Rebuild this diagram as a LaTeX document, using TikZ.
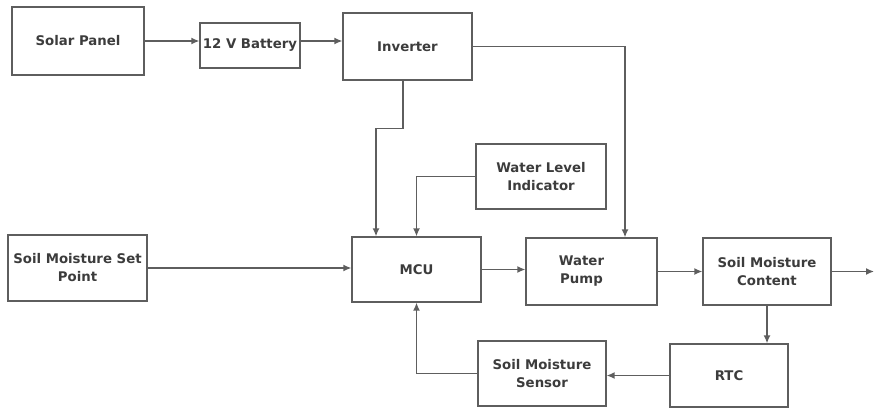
\documentclass[tikz,border=0pt]{standalone}
\usepackage{fontspec}
\setmainfont{DejaVu Sans}
\usetikzlibrary{arrows.meta}
\definecolor{txt}{HTML}{3C3C3C}
\definecolor{ln}{HTML}{5E5E5E}
\tikzset{
  blk/.style={draw=ln, line width=1.3pt, fill=white, align=center, text=txt,
    font=\fontsize{13.3}{18}\selectfont\bfseries, inner sep=0pt},
  arr/.style={draw=ln, line width=1.4pt, -{Latex[length=8pt,width=7pt]}},
}
\begin{document}
\begin{tikzpicture}[x=1pt,y=-1pt]
\useasboundingbox (0,0) rectangle (874,409);
\node[blk, minimum width=132, minimum height=68] (solar) at (78,41) {Solar Panel};
\node[blk, minimum width=100, minimum height=45] (batt) at (250,45.5) {12 V Battery};
\node[blk, minimum width=129, minimum height=67] (inv) at (407.5,46.5) {Inverter};
\node[blk, minimum width=130, minimum height=65] (wli) at (541,176.5) {Water Level\\Indicator};
\node[blk, minimum width=139, minimum height=66] (setp) at (77.5,268) {Soil Moisture Set\\Point};
\node[blk, minimum width=129, minimum height=65] (mcu) at (416.5,269.5) {MCU};
\node[blk, minimum width=131, minimum height=67] (pump) at (591.5,271.5) {\hspace*{-20pt}Water\\\hspace*{-20pt}Pump};
\node[blk, minimum width=128, minimum height=67] (smc) at (767,271.5) {Soil Moisture\\Content};
\node[blk, minimum width=118, minimum height=63] (rtc) at (729,375.5) {RTC};
\node[blk, minimum width=128, minimum height=65] (sens) at (542,373.5) {Soil Moisture\\Sensor};
\coordinate (out) at (874,271.5);

\draw[arr] (solar.east) -- (solar.east -| batt.west);
\draw[arr] (batt.east |- solar.east) -- (solar.east -| inv.west);
\draw[arr] ([xshift=-4.5pt]inv.south) -- ++(0,48) -| ([xshift=-40.5pt]mcu.north);
\draw[arr] (inv.east) -| ([xshift=33.5pt]pump.north);
\draw[arr] (wli.west) -| (mcu.north);
\draw[arr] (setp.east) -- (setp.east -| mcu.west);
\draw[arr] (mcu.east) -- (mcu.east -| pump.west);
\draw[arr] (pump.east) -- (smc.west);
\draw[arr] (smc.east) -- (out);
\draw[arr] (smc.south) -- (smc.south |- rtc.north);
\draw[arr] (rtc.west) -- (rtc.west -| sens.east);
\draw[arr] (sens.west) -| (mcu.south);
\end{tikzpicture}
\end{document}
